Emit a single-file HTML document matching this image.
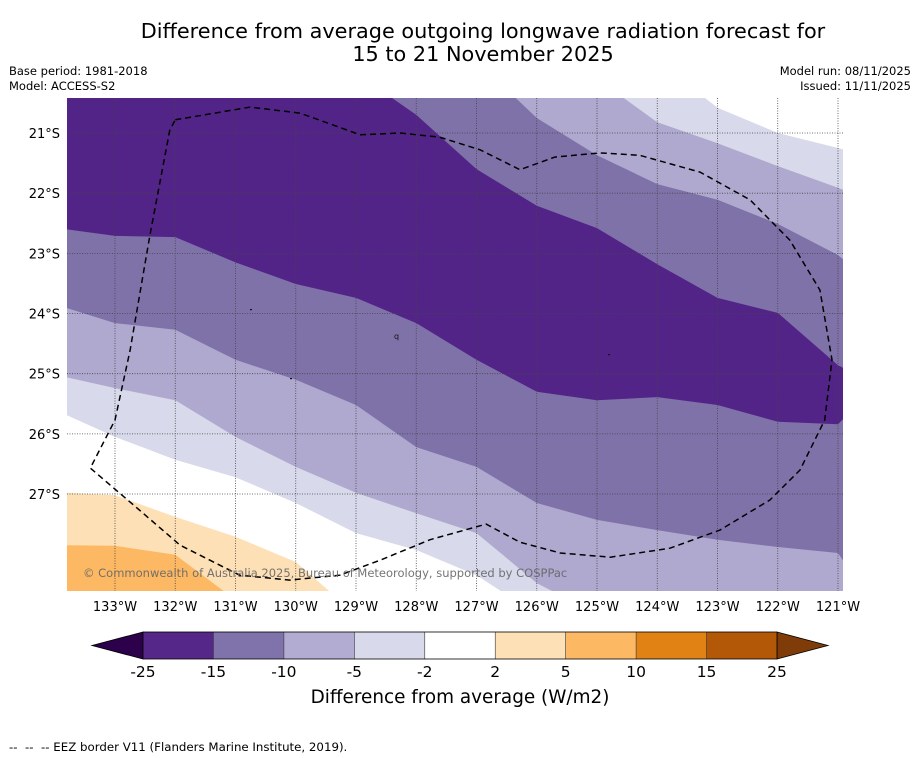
<!DOCTYPE html>
<html><head><meta charset="utf-8">
<style>
body{margin:0;background:#fff;width:919px;height:758px;overflow:hidden;font-family:"DejaVu Sans","Liberation Sans",sans-serif;}
svg{position:absolute;left:0;top:0}
</style></head>
<body>
<svg id="chart" width="919" height="758" viewBox="0 0 919 758" xmlns="http://www.w3.org/2000/svg">
<text x="483" y="38" font-size="20.8" text-anchor="middle" fill="#000">Difference from average outgoing longwave radiation forecast for</text>
<text x="483" y="61" font-size="20.8" text-anchor="middle" fill="#000">15 to 21 November 2025</text>
<text x="9" y="75" font-size="11.5">Base period: 1981-2018</text>
<text x="9" y="90" font-size="11.5">Model: ACCESS-S2</text>
<text x="911" y="75" font-size="11.5" text-anchor="end">Model run: 08/11/2025</text>
<text x="911" y="90" font-size="11.5" text-anchor="end">Issued: 11/11/2025</text>
<defs><clipPath id="mapclip"><rect x="67" y="98" width="776" height="493"/></clipPath></defs>
<g id="map" clip-path="url(#mapclip)"></g>
<g id="axes"></g>
<g id="cbar"></g>
<text x="460" y="703" font-size="18.4" text-anchor="middle">Difference from average (W/m2)</text>
<text x="9" y="751" font-size="11.8" xml:space="preserve">--  --  -- EEZ border V11 (Flanders Marine Institute, 2019).</text>
</svg>
<script>
const lons = [-133.8,-133,-132,-131,-130,-129,-128,-127,-126,-125,-124,-123,-122,-121,-120.9];
// contour boundary latitudes sampled at each lon
const bandLower15 = [-22.60,-22.71,-22.73,-23.15,-23.51,-23.74,-24.16,-24.77,-25.30,-25.44,-25.39,-25.52,-25.80,-25.84,-25.74];
const bandUpper15 = [-20,-20,-20,-20,-20,-20,-20.70,-21.60,-22.21,-22.58,-23.18,-23.74,-23.99,-24.86,-24.91];
const bandUpper10 = [-19.5,-19.5,-19.5,-19.5,-19.5,-19.5,-19.5,-19.8,-20.75,-21.37,-21.85,-22.11,-22.51,-23.03,-23.11];
const bandUpper5 = [-19.5,-19.5,-19.5,-19.5,-19.5,-19.5,-19.5,-19.5,-19.5,-20.1,-20.82,-21.17,-21.55,-21.91,-21.95];
const bandUpper2 = [-19.5,-19.5,-19.5,-19.5,-19.5,-19.5,-19.5,-19.5,-19.5,-19.5,-19.8,-20.58,-21.0,-21.25,-21.28];
const bandLower10 = [-23.91,-24.16,-24.27,-24.77,-25.10,-25.52,-26.22,-26.55,-27.15,-27.43,-27.60,-27.76,-27.88,-27.98,-28.13];
const bandLower5 = [-25.06,-25.24,-25.44,-26.05,-26.55,-26.98,-27.32,-27.65,-28.48,-29,-29,-29,-29,-29,-29];
const bandLower2 = [-25.69,-26.05,-26.43,-26.72,-27.15,-27.65,-27.93,-28.35,-29,-29,-29,-29,-29,-29,-29];
const bandPos2 = [-26.98,-27.02,-27.38,-27.71,-28.13,-29,-29,-29,-29,-29,-29,-29,-29,-29,-29];
const bandPos5 = [-27.85,-27.86,-28.01,-28.76,-29,-29,-29,-29,-29,-29,-29,-29,-29,-29,-29];
const eezLon = [-132.00,-130.76,-129.93,-128.93,-128.27,-127.61,-126.94,-126.28,-125.70,-124.95,-124.29,-123.29,-122.46,-121.80,-121.30,-121.10,-121.22,-121.63,-122.13,-122.96,-123.79,-124.78,-125.61,-126.28,-126.84,-127.77,-128.60,-129.27,-130.10,-130.93,-131.92,-132.59,-133.41,-133.00,-132.75,-132.42,-132.09,-132.00];
const eezLat = [-20.78,-20.57,-20.67,-21.03,-21.00,-21.07,-21.28,-21.61,-21.40,-21.33,-21.37,-21.65,-22.11,-22.78,-23.61,-24.77,-25.77,-26.60,-27.10,-27.60,-27.90,-28.05,-27.98,-27.80,-27.50,-27.76,-28.10,-28.35,-28.43,-28.35,-27.85,-27.27,-26.57,-25.77,-24.61,-22.70,-20.95,-20.78];
const lonTicks = [-133,-132,-131,-130,-129,-128,-127,-126,-125,-124,-123,-122,-121];
const latTicks = [-21,-22,-23,-24,-25,-26,-27];
const latLabelTicks = [-21,-22,-23,-24,-25,-26,-27];
const cbLevels = [-25,-15,-10,-5,-2,2,5,10,15,25];
const cbColors = ["#542788","#8073ac","#b2abd2","#d8daeb","#ffffff","#fee0b6","#fdb863","#e08214","#b35806"];

const NS="http://www.w3.org/2000/svg";
const X = lon => 115 + (lon + 133) * 60.25;
const Y = lat => 133 + (-21 - lat) * 60.17;
const TOP=98, BOT=591, L=67, R=843;
function mk(tag, attrs, parent){const e=document.createElementNS(NS,tag);for(const k in attrs)e.setAttribute(k,attrs[k]);parent.appendChild(e);return e;}
const map=document.getElementById('map');
const axes=document.getElementById('axes');
const cbar=document.getElementById('cbar');
function pts(lats){return lons.map((lo,i)=>X(lo).toFixed(1)+','+Y(lats[i]).toFixed(1));}
function below(lats,color,name){
  const p=pts(lats).concat([X(lons[lons.length-1])+','+(BOT+40),X(lons[0])+','+(BOT+40)]);
  const e=mk('polygon',{points:p.join(' '),fill:color},map);
  
  
}
function above(lats,color,name){
  const p=pts(lats).concat([X(lons[lons.length-1])+','+(TOP-40),X(lons[0])+','+(TOP-40)]);
  const e=mk('polygon',{points:p.join(' '),fill:color},map);
  
  
}
const bg=mk('rect',{x:L,y:TOP,width:R-L,height:BOT-TOP,fill:'#532487'},map);


above(bandUpper15,'#7f72a9','band-upper-minus15-minus10');
above(bandUpper10,'#afa9cf','band-upper-minus10-minus5');
above(bandUpper5,'#d8d9ea','band-upper-minus5-minus2');
above(bandUpper2,'#ffffff','band-upper-minus2-2');
below(bandLower15,'#7f72a9','band-minus15-minus10');
below(bandLower10,'#afa9cf','band-minus10-minus5');
below(bandLower5,'#d8d9ea','band-minus5-minus2');
below(bandLower2,'#ffffff','band-minus2-2');
below(bandPos2,'#fee0b6','band-2-5');
below(bandPos5,'#fdb863','band-5-10');
lonTicks.forEach(lo=>{const g=mk('line',{x1:X(lo),x2:X(lo),y1:TOP,y2:BOT,stroke:'#444','stroke-width':0.8,'stroke-dasharray':'1,1.5'},map);

});
latTicks.forEach(la=>{const g=mk('line',{x1:L,x2:R,y1:Y(la),y2:Y(la),stroke:'#444','stroke-width':0.8,'stroke-dasharray':'1,1.5'},map);

});
[[250,309],[290,378],[608,354]].forEach(d=>{const m=mk('rect',{x:d[0],y:d[1],width:2,height:1.2,fill:'#111'},map);

});
const q=mk('text',{x:394,y:339,'font-size':8,fill:'#111'},map);q.textContent='q';


const eez=mk('polyline',{points:eezLon.map((lo,i)=>X(lo).toFixed(1)+','+Y(eezLat[i]).toFixed(1)).join(' '),fill:'none',stroke:'#000','stroke-width':1.5,'stroke-dasharray':'6,4'},map);


const cr=mk('text',{x:83,y:577,'font-size':11.5,fill:'#666','fill-opacity':0.9},map);
cr.textContent='© Commonwealth of Australia 2025, Bureau of Meteorology, supported by COSPPac';


lonTicks.forEach(lo=>{const t=mk('text',{x:X(lo),y:611,'font-size':13,'text-anchor':'middle'},axes);t.textContent=Math.abs(lo)+'°W';

});
latLabelTicks.forEach(la=>{const t=mk('text',{x:60,y:Y(la)+5,'font-size':13,'text-anchor':'end'},axes);t.textContent=Math.abs(la)+'°S';

});
const cx0=143,cx1=777,cy=632,ch=27,n=cbColors.length,w=(cx1-cx0)/n;
const lt=mk('polygon',{points:`${cx0},${cy} ${cx0},${cy+ch} 92,${cy+ch/2}`,fill:'#2d004b',stroke:'#000','stroke-width':0.8},cbar);


const rt=mk('polygon',{points:`${cx1},${cy} ${cx1},${cy+ch} 828,${cy+ch/2}`,fill:'#7f3b08',stroke:'#000','stroke-width':0.8},cbar);


cbColors.forEach((c,i)=>{const r=mk('rect',{x:cx0+i*w,y:cy,width:w,height:ch,fill:c},cbar);


mk('line',{x1:cx0+i*w,x2:cx0+i*w,y1:cy,y2:cy+ch,stroke:'#333','stroke-width':0.6},cbar);});
const fr=mk('rect',{x:cx0,y:cy,width:cx1-cx0,height:ch,fill:'none',stroke:'#000','stroke-width':0.8},cbar);


cbLevels.forEach((v,i)=>{const t=mk('text',{x:cx0+i*w,y:677,'font-size':15.5,'text-anchor':'middle'},cbar);t.textContent=v;

});
</script>
</body></html>
